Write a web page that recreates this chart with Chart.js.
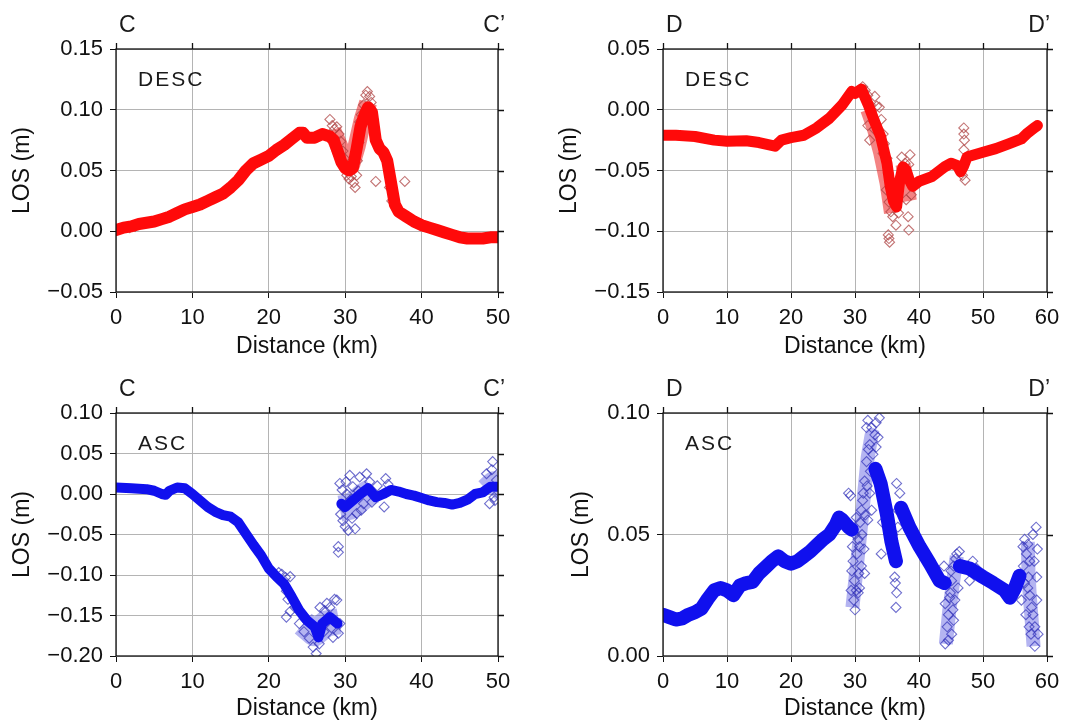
<!DOCTYPE html>
<html>
<head>
<meta charset="utf-8">
<script src="https://cdn.jsdelivr.net/npm/chart.js@4.4.1/dist/chart.umd.min.js"></script>
<style>
  body { margin: 0; background: #fff; }
  #wrap { position: relative; width: 1077px; height: 723px; }
  .panel { position: absolute; }
</style>
</head>
<body>
<div id="wrap">
  <div class="panel" style="left:0;top:0"><canvas id="cDesc" width="540" height="360"></canvas></div>
  <div class="panel" style="left:540px;top:0"><canvas id="dDesc" width="537" height="360"></canvas></div>
  <div class="panel" style="left:0;top:360px"><canvas id="cAsc" width="540" height="363"></canvas></div>
  <div class="panel" style="left:540px;top:360px"><canvas id="dAsc" width="537" height="363"></canvas></div>
</div>
<script>
// ---- data (distance km, LOS m) ----
var xTicksC = [0, 10, 20, 30, 40, 50];
var xTicksD = [0, 10, 20, 30, 40, 50, 60];
var yTicksCDesc = [-0.05, 0, 0.05, 0.10, 0.15];
var yTicksDDesc = [-0.15, -0.10, -0.05, 0, 0.05];
var yTicksCAsc = [-0.20, -0.15, -0.10, -0.05, 0, 0.05, 0.10];
var yTicksDAsc = [0, 0.05, 0.10];

// C-C' descending: main trend, noisy cloud core, scattered points
var cDescBand = [[0,0.001],[1,0.003],[2,0.004],[3,0.006],[4,0.007],[5,0.008],[6,0.010],[7,0.012],[8,0.015],[9,0.018],
  [10,0.020],[11,0.022],[12,0.025],[13,0.028],[14,0.031],[15,0.036],[16,0.042],[17,0.050],[18,0.056],[19,0.059],
  [20,0.062],[21,0.067],[22,0.071],[23,0.076],[24,0.081],[24.5,0.081],[25,0.077],[26,0.077],[27,0.080],[28,0.078],
  [28.5,0.075],[29,0.066],[29.5,0.057],[30,0.052],[30.5,0.050],[31,0.052],[31.5,0.068],[32,0.086],[32.5,0.095],[33,0.102],
  [33.5,0.098],[34,0.075],[34.5,0.068],[35,0.065],[35.5,0.058],[36,0.040],[36.5,0.022],[37,0.016],[38,0.012],[39,0.008],
  [40,0.005],[41,0.003],[42,0.001],[43,-0.001],[44,-0.003],[45,-0.005],[46,-0.006],[47,-0.006],[48,-0.006],[49,-0.005],[50,-0.005]];
var cDescCloud = [[28.3,0.083],[29.2,0.070],[30,0.058],[30.8,0.055],[31.5,0.070],[32.3,0.092],[33,0.106]];
var cDescScatter = [[28.0,0.092],[28.3,0.087],[28.6,0.084],[28.9,0.086],[29.2,0.080],[29.4,0.074],[29.7,0.066],[29.9,0.060],
  [30.2,0.046],[30.5,0.043],[30.8,0.045],[31.1,0.040],[31.3,0.036],[31.5,0.046],[31.6,0.058],[31.8,0.073],[31.9,0.090],
  [32.1,0.096],[32.4,0.104],[32.7,0.112],[32.9,0.115],[33.2,0.111],[33.4,0.106],[33.7,0.092],[34.0,0.041],[37.8,0.041],
  [36.1,0.025],[35.8,0.036],[1.8,0.003],[2.5,0.004]];

// D-D' descending
var dDescBand = [[0,-0.021],[2,-0.021],[5,-0.022],[8,-0.025],[10,-0.026],[13,-0.0255],[15,-0.027],[17.5,-0.030],[18.5,-0.025],
  [20,-0.023],[22,-0.021],[24,-0.015],[26,-0.007],[28,0.004],[29.5,0.015],[30,0.0135],[31,0.017],[32,0.005],[33,-0.009],
  [34,-0.022],[35,-0.044],[35.5,-0.063],[36,-0.075],[36.5,-0.080],[37,-0.058],[37.5,-0.047],[38,-0.050],[38.5,-0.058],
  [39,-0.063],[40,-0.059],[42,-0.055],[44,-0.047],[45,-0.044],[46,-0.046],[46.5,-0.051],[47,-0.046],[47.5,-0.039],
  [48,-0.038],[50,-0.035],[52,-0.032],[54,-0.028],[56,-0.024],[57,-0.019],[58,-0.015],[58.5,-0.013]];
var dDescCloud = [[32,0.000],[33,-0.015],[34,-0.035],[35,-0.060],[35.7,-0.085],[36.1,null],
  [37.5,-0.045],[38,-0.060],[38.5,-0.075]];
var dDescScatter = [[31.2,0.019],[31.6,0.016],[32.0,0.012],[32.4,0.004],[33.1,0.011],[33.4,0.003],[32.0,-0.013],[32.3,-0.025],
  [33.0,-0.016],[33.8,0.002],[34.1,-0.008],[34.4,-0.020],[34.6,-0.028],[34.4,-0.036],[35.0,-0.040],[35.2,-0.052],
  [34.9,-0.066],[35.3,-0.076],[35.6,-0.084],[35.9,-0.088],[35.2,-0.103],[35.3,-0.106],[35.4,-0.109],[36.4,-0.095],
  [36.0,-0.069],[37.3,-0.039],[37.8,-0.044],[38.6,-0.037],[38.4,-0.045],[38.0,-0.074],[38.3,-0.088],[38.4,-0.099],
  [38.8,-0.070],[36.8,-0.085],[47.0,-0.015],[47.0,-0.020],[47.1,-0.025],[47.0,-0.033],[47.2,-0.058],[46.8,-0.054]];

// C-C' ascending
var cAscBand = [[0,0.008],[2,0.007],[4,0.006],[5,0.004],[6,0.000],[6.5,-0.001],[7,0.004],[8,0.008],[9,0.007],[10,0.000],
  [11,-0.008],[12,-0.016],[13,-0.022],[14,-0.026],[15,-0.028],[16,-0.035],[17,-0.049],[18,-0.063],[19,-0.076],[20,-0.092],
  [21,-0.102],[22,-0.111],[23,-0.127],[24,-0.144],[25,-0.156],[26,-0.164],[26.5,-0.177],[27,-0.160],[28,-0.152],[28.5,-0.156],
  [29,-0.160],[29.2,null],[29.5,-0.012],[30,-0.016],[31,-0.008],[32,0.000],[33,0.007],[34,-0.004],[35,0.000],[36,0.005],
  [37,0.003],[38,0.000],[39,-0.002],[40,-0.005],[41,-0.008],[42,-0.010],[43,-0.011],[44,-0.013],[45,-0.011],[46,-0.007],
  [47,0.000],[48,0.002],[49,0.009],[50,0.009]];
var cAscCloud = [[24.5,-0.160],[26,-0.172],[27.5,-0.160],[29.2,-0.157],[29.25,null],
  [29.3,-0.018],[30.5,-0.016],[31.5,-0.010],[32.5,-0.002],[33.6,0.004],[33.7,null],
  [48.6,0.004],[49.5,0.012],[50,0.012]];
var cAscScatter = [[21.3,-0.097],[21.7,-0.099],[22.2,-0.103],[22.8,-0.102],[22.3,-0.120],[22.5,-0.130],[22.3,-0.152],
  [22.8,-0.145],[23.4,-0.140],[24.0,-0.160],[24.6,-0.170],[25.3,-0.178],[25.8,-0.189],[26.2,-0.197],[26.6,-0.185],
  [26.7,-0.140],[27.3,-0.144],[27.6,-0.135],[28.0,-0.140],[28.4,-0.177],[28.6,-0.130],[28.9,-0.131],[29.1,-0.172],
  [29.3,-0.160],[28.2,-0.165],[27.2,-0.170],
  [29.3,0.013],[29.4,-0.025],[29.7,-0.033],[29.7,-0.016],[30.0,-0.040],[30.2,0.000],[30.4,-0.045],[30.6,0.023],
  [30.6,-0.008],[30.9,-0.030],[31.0,0.009],[31.3,-0.043],[31.5,-0.024],[31.9,0.021],[32.1,-0.020],[32.4,-0.012],
  [32.8,0.025],[33.2,0.015],[33.5,-0.010],[34.2,0.010],[35.1,-0.016],[35.3,0.019],[35.6,0.012],[29.1,-0.065],
  [29.1,-0.072],[29.6,0.005],[30.1,0.015],[31.7,0.004],
  [48.5,0.025],[48.9,-0.012],[49.3,0.040],[49.6,-0.008],[49.8,0.017],[49.2,0.030],[49.5,-0.004]];

// D-D' ascending
var dAscBand = [[0,0.017],[1,0.016],[2,0.015],[3,0.0155],[4,0.017],[5,0.018],[6,0.0195],[7,0.0235],[8,0.027],[9,0.028],
  [10,0.027],[11,0.025],[12,0.029],[13,0.030],[14,0.0305],[15,0.034],[16,0.0365],[17,0.039],[18,0.041],[19,0.039],
  [20,0.038],[21,0.039],[22,0.041],[23,0.043],[24,0.0455],[25,0.048],[26,0.050],[27,0.054],[27.5,0.057],[28,0.056],
  [29,0.053],[29.5,0.052],[30.5,null],
  [33.2,0.077],[34,0.071],[35,0.058],[35.7,0.047],[36.4,0.039],[36.8,null],
  [37.2,0.061],[38.5,0.053],[40.1,0.045],[41.7,0.038],[43.2,0.031],[44,0.030],[45,null],
  [46.4,0.037],[47.9,0.036],[50,0.0325],[51.6,0.030],[53.4,0.027],[54.2,0.024],[55,0.028],[55.7,0.033]];
var dAscCloud = [[29.6,0.020],[30.2,0.035],[30.8,0.050],[31.4,0.066],[32.0,0.082],[32.6,0.091],[33.3,0.090],[33.4,null],
  [44.2,0.005],[44.7,0.018],[45.3,0.030],[45.9,0.041],[46,null],
  [57.9,0.004],[57.6,0.015],[57.3,0.025],[57.1,0.035],[57.0,0.047]];
var dAscScatter = [[29.0,0.067],[29.3,0.066],[29.4,0.027],[29.5,0.035],[29.6,0.045],[29.7,0.039],[29.8,0.023],[29.9,0.031],
  [30.0,0.050],[30.0,0.019],[30.2,0.057],[30.2,0.027],[30.3,0.042],[30.5,0.026],[30.5,0.048],[30.6,0.034],[30.7,0.045],
  [30.7,0.028],[30.8,0.055],[31.0,0.060],[31.0,0.037],[31.1,0.050],[31.2,0.064],[31.3,0.067],[31.4,0.044],[31.5,0.072],
  [31.5,0.034],[31.6,0.058],[31.8,0.080],[31.8,0.094],[31.9,0.070],[32.0,0.097],[32.0,0.056],[32.1,0.085],[32.3,0.087],
  [32.3,0.067],[32.4,0.076],[32.6,0.094],[32.6,0.060],[32.8,0.083],[33.1,0.091],[33.3,0.096],[33.3,0.086],[33.6,0.090],
  [33.8,0.098],[34.1,0.042],[34.3,0.055],
  [35.9,0.050],[36.2,0.0325],[36.4,0.020],[36.5,0.026],[36.5,0.071],[36.7,0.053],[36.7,0.060],[37.0,0.067],[36.3,0.030],
  [43.9,0.037],[44.1,0.005],[44.1,0.0215],[44.3,0.030],[44.4,0.012],[44.6,0.017],[44.6,0.0065],[44.8,0.024],[44.9,0.026],
  [45.0,0.035],[45.1,0.031],[45.1,0.009],[45.3,0.019],[45.4,0.037],[45.4,0.0147],[45.6,0.023],[45.7,0.040],[45.9,0.042],
  [46.1,0.028],[46.3,0.043],[48.4,0.039],[47.9,0.031],[49.0,0.036],
  [56.0,0.023],[56.25,0.045],[56.3,0.037],[56.5,0.030],[56.7,0.017],[56.8,0.042],[57.0,0.028],[57.1,0.0325],[57.2,0.012],
  [57.3,0.039],[57.3,0.025],[57.5,0.009],[57.6,0.020],[57.8,0.050],[57.8,0.017],[58.0,0.039],[58.1,0.012],[58.1,0.004],
  [58.3,0.053],[58.4,0.0325],[58.4,0.023],[58.6,0.009],[58.5,0.044],[57.0,0.046],[56.5,0.048]];

var FONT = '"Liberation Sans", Arial, Helvetica, sans-serif';

// frame, outer ticks on top/right, profile end labels and track name
var decor = {
  id: 'decor',
  afterDraw: function (chart, args, o) {
    var ctx = chart.ctx, a = chart.chartArea, sx = chart.scales.x, sy = chart.scales.y;
    ctx.save();
    ctx.strokeStyle = '#111';
    ctx.lineWidth = 1.3;
    ctx.strokeRect(a.left, a.top, a.right - a.left, a.bottom - a.top);
    ctx.beginPath();
    sy.ticks.forEach(function (t) {
      var y = Math.round(sy.getPixelForValue(t.value)) + 0.5;
      ctx.moveTo(a.right, y); ctx.lineTo(a.right + 6, y);
    });
    sx.ticks.forEach(function (t) {
      var x = Math.round(sx.getPixelForValue(t.value)) + 0.5;
      ctx.moveTo(x, a.top); ctx.lineTo(x, a.top - 6);
    });
    ctx.stroke();

    ctx.fillStyle = '#1a1a1a';
    ctx.textBaseline = 'middle';
    ctx.font = '23px ' + FONT;
    ctx.textAlign = 'left';
    ctx.fillText(o.start, a.left + 3, a.top - 23);
    ctx.textAlign = 'right';
    ctx.fillText(o.end, a.right + o.endDx, a.top - 23);
    ctx.font = '21px ' + FONT;
    ctx.letterSpacing = '2px';
    ctx.textAlign = 'left';
    ctx.fillText(o.track, a.left + 22, a.top + 31);
    ctx.restore();
  }
};

function fmtY(v) {
  return v.toFixed(2).replace('-', '\u2212');
}

function makeChart(id, c) {
  return new Chart(document.getElementById(id), {
    type: 'scatter',
    data: {
      datasets: [{
        type: 'line',
        data: c.band,
        borderColor: c.color,
        borderWidth: c.bw,
        borderJoinStyle: 'round',
        borderCapStyle: 'round',
        pointRadius: 0,
        tension: 0,
        spanGaps: false,
        fill: false
      }, {
        data: c.scatter,
        pointStyle: 'rectRot',
        pointRadius: 5,
        backgroundColor: 'rgba(0,0,0,0)',
        borderColor: c.scatterColor,
        borderWidth: 1.1
      }, {
        type: 'line',
        data: c.cloud,
        borderColor: c.cloudColor,
        borderWidth: c.cw,
        borderJoinStyle: 'round',
        borderCapStyle: 'butt',
        pointRadius: 0,
        tension: 0,
        spanGaps: false,
        fill: false
      }]
    },
    options: {
      responsive: false,
      animation: false,
      layout: { padding: { left: 0, right: c.right, top: c.top, bottom: 0 } },
      plugins: {
        legend: { display: false },
        tooltip: { enabled: false },
        decor: { start: c.start, end: c.end, endDx: c.endDx, track: c.track }
      },
      scales: {
        x: {
          type: 'linear',
          min: 0, max: c.xTicks[c.xTicks.length - 1],
          afterBuildTicks: function (s) { s.ticks = c.xTicks.map(function (v) { return { value: v }; }); },
          afterFit: function (s) { s.height = c.xh; },
          ticks: { color: '#111', font: { family: FONT, size: 22 }, padding: 7, maxRotation: 0, autoSkip: false,
                   callback: function (v) { return String(v); } },
          grid: { color: '#b4b4b4', lineWidth: 1, tickLength: 6, tickColor: '#111' },
          border: { display: false },
          title: { display: true, text: 'Distance (km)', color: '#111', font: { family: FONT, size: 23 },
                   padding: { top: 0, bottom: c.xtPad } }
        },
        y: {
          type: 'linear',
          min: c.yTicks[0], max: c.yTicks[c.yTicks.length - 1],
          afterBuildTicks: function (s) { s.ticks = c.yTicks.map(function (v) { return { value: v }; }); },
          afterFit: function (s) { s.width = c.yw; },
          ticks: { color: '#111', font: { family: FONT, size: 22 }, padding: 7, autoSkip: false, callback: fmtY },
          grid: { color: '#b4b4b4', lineWidth: 1, tickLength: 6, tickColor: '#111' },
          border: { display: false },
          title: { display: true, text: 'LOS (m)', color: '#111', font: { family: FONT, size: 23 },
                   padding: { top: c.ytPad, bottom: 0 } }
        }
      }
    },
    plugins: [decor]
  });
}

var RED = '#ff0a0a', RED_PTS = 'rgba(175,70,70,0.75)', RED_CLOUD = 'rgba(235,30,30,0.55)';
var BLUE = '#1010ee', BLUE_PTS = 'rgba(50,50,185,0.7)', BLUE_CLOUD = 'rgba(40,40,215,0.35)';

makeChart('cDesc', { band: cDescBand, scatter: cDescScatter, cloud: cDescCloud, color: RED, scatterColor: RED_PTS,
  cloudColor: RED_CLOUD, bw: 12, cw: 18,
  xTicks: xTicksC, yTicks: yTicksCDesc, right: 42, top: 49, yw: 116, xh: 68, xtPad: 0, ytPad: 9,
  start: 'C', end: 'C\u2019', endDx: 7, track: 'DESC' });
makeChart('dDesc', { band: dDescBand, scatter: dDescScatter, cloud: dDescCloud, color: RED, scatterColor: RED_PTS,
  cloudColor: RED_CLOUD, bw: 11, cw: 15,
  xTicks: xTicksD, yTicks: yTicksDDesc, right: 30, top: 49, yw: 123, xh: 68, xtPad: 0, ytPad: 16,
  start: 'D', end: 'D\u2019', endDx: 3, track: 'DESC' });
makeChart('cAsc', { band: cAscBand, scatter: cAscScatter, cloud: cAscCloud, color: BLUE, scatterColor: BLUE_PTS,
  cloudColor: BLUE_CLOUD, bw: 10, cw: 26,
  xTicks: xTicksC, yTicks: yTicksCAsc, right: 42, top: 53, yw: 116, xh: 67, xtPad: 1, ytPad: 9,
  start: 'C', end: 'C\u2019', endDx: 7, track: 'ASC' });
makeChart('dAsc', { band: dAscBand, scatter: dAscScatter, cloud: dAscCloud, color: BLUE, scatterColor: BLUE_PTS,
  cloudColor: BLUE_CLOUD, bw: 14, cw: 14,
  xTicks: xTicksD, yTicks: yTicksDAsc, right: 30, top: 53, yw: 123, xh: 67, xtPad: 1, ytPad: 28,
  start: 'D', end: 'D\u2019', endDx: 3, track: 'ASC' });
</script>
</body>
</html>
